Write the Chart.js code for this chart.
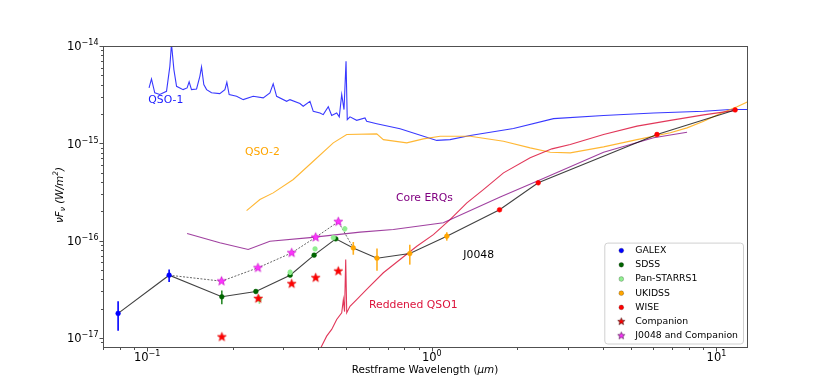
<!DOCTYPE html>
<html>
<head>
<meta charset="utf-8">
<script src="https://cdn.jsdelivr.net/npm/chart.js@4.4.1/dist/chart.umd.min.js"></script>
<style>
  html, body { margin: 0; padding: 0; background: #fff; }
  #wrap { width: 830px; height: 391px; }
</style>
</head>
<body>
<div id="wrap"><canvas id="sedChart" width="830" height="391"></canvas></div>
<script>
// ---- spectra (restframe wavelength in micron, nuFnu in W/m^2) ----
const qso1Wave = [0.1016, 0.1036, 0.1064, 0.1108, 0.117, 0.1202, 0.1218, 0.1242, 0.1269, 0.1338,
  0.1382, 0.1405, 0.1432, 0.1492, 0.1532, 0.1553, 0.1582, 0.1618, 0.1684, 0.180,
  0.1876, 0.1906, 0.1942, 0.2062, 0.2176, 0.2359, 0.2558, 0.270, 0.2773, 0.2851,
  0.3092, 0.3176, 0.3442, 0.3535, 0.3733, 0.3834, 0.4047, 0.4157, 0.4329, 0.4450,
  0.4634, 0.4732, 0.4826, 0.4917, 0.4998, 0.5048, 0.516, 0.5447, 0.5826, 0.5906,
  0.6407, 0.7736, 1.041, 1.159, 1.364, 1.936, 2.677, 4.012, 6.016, 9.016, 11.19, 13.0];
const qso1Flux = [3.71e-15, 4.59e-15, 3.30e-15, 3.17e-15, 3.42e-15, 6.18e-15, 1.05e-14, 5.72e-15, 3.85e-15, 3.56e-15,
  3.71e-15, 4.28e-15, 3.56e-15, 3.62e-15, 4.88e-15, 6.10e-15, 4.01e-15, 3.56e-15, 3.30e-15, 3.24e-15,
  3.56e-15, 4.24e-15, 3.17e-15, 3.04e-15, 2.81e-15, 3.04e-15, 2.93e-15, 3.30e-15, 4.08e-15, 3.04e-15,
  2.70e-15, 2.81e-15, 2.56e-15, 2.40e-15, 2.70e-15, 2.13e-15, 2.05e-15, 1.97e-15, 2.37e-15, 1.93e-15,
  2.05e-15, 1.87e-15, 3.17e-15, 2.22e-15, 6.96e-15, 1.75e-15, 1.87e-15, 1.72e-15, 1.82e-15, 1.68e-15,
  1.59e-15, 1.41e-15, 1.07e-15, 1.09e-15, 1.20e-15, 1.42e-15, 1.79e-15, 1.93e-15, 2.05e-15, 2.13e-15, 2.22e-15, 2.22e-15];

const qso2Wave = [0.2236, 0.249, 0.2773, 0.3262, 0.3834, 0.4508, 0.5026, 0.6407, 0.6759, 0.8167,
  0.9343, 1.07, 1.364, 1.786, 2.216, 2.606, 3.064, 4.012, 5.258, 6.885, 7.882, 9.016, 10.32, 11.81, 13.0];
const qso2Flux = [2.03e-16, 2.64e-16, 3.09e-16, 4.24e-16, 6.53e-16, 1.01e-15, 1.23e-15, 1.25e-15, 1.09e-15, 1.01e-15,
  1.11e-15, 1.18e-15, 1.18e-15, 1.05e-15, 8.97e-16, 8.08e-16, 7.97e-16, 9.18e-16, 1.09e-15, 1.28e-15, 1.44e-15, 1.68e-15, 2.02e-15, 2.37e-15, 2.70e-15];

const redWave = [0.4047, 0.4273, 0.4450, 0.4634, 0.4826, 0.4890, 0.4938, 0.4985, 0.5026, 0.516,
  0.5447, 0.5906, 0.6759, 0.7736, 0.8858, 1.013, 1.159, 1.328, 1.518, 1.786,
  2.216, 2.642, 3.064, 4.012, 5.258, 6.885, 9.016, 11.63];
const redFlux = [7.58e-18, 1.04e-17, 1.22e-17, 1.54e-17, 1.81e-17, 2.47e-17, 1.86e-17, 6.38e-17, 1.81e-17, 2.11e-17,
  2.47e-17, 3.14e-17, 4.66e-17, 6.38e-17, 8.74e-17, 1.15e-16, 1.64e-16, 2.44e-16, 3.34e-16, 4.96e-16,
  7.08e-16, 8.76e-16, 9.70e-16, 1.23e-15, 1.50e-15, 1.72e-15, 1.96e-15, 2.18e-15];

const erqWave = [0.1382, 0.180, 0.2265, 0.270, 0.3733, 0.5597, 0.7328, 1.098, 1.739, 2.34, 4.012, 6.016, 7.882];
const erqFlux = [1.18e-16, 9.47e-17, 8.08e-17, 9.84e-17, 1.07e-16, 1.22e-16, 1.30e-16, 1.52e-16, 2.81e-16, 4.07e-16, 8.08e-16, 1.14e-15, 1.30e-15];

// ---- photometry of J0048 ----
const galexWave = [0.0791, 0.1195];
const galexFlux = [1.78e-17, 4.40e-17];
const galexErr = [0.60e-17, 0.65e-17];

const sdssWave = [0.183, 0.241, 0.318, 0.386, 0.460];
const sdssFlux = [2.64e-17, 2.99e-17, 4.40e-17, 7.07e-17, 1.04e-16];
const sdssErr = [0.43e-17, 0.08e-17, 0.1e-17, 0.12e-17, 0.15e-17];

const ps1Wave = [0.248, 0.318, 0.389, 0.451, 0.495];
const ps1Flux = [2.48e-17, 4.72e-17, 8.20e-17, 1.07e-16, 1.32e-16];
const ps1Err = [0.25e-17, 0.3e-17, 0.2e-17, 0.2e-17, 0.8e-17];

const ukidssWave = [0.530, 0.642, 0.837, 1.129];
const ukidssFlux = [8.40e-17, 6.58e-17, 7.35e-17, 1.107e-16];
const ukidssErr = [1.26e-17, 1.7e-17, 1.7e-17, 1.1e-17];

const wiseWave = [1.73, 2.365, 6.18, 11.63];
const wiseFlux = [2.07e-16, 3.92e-16, 1.23e-15, 2.20e-15];
const wiseErr = [0.04e-16, 0.08e-16, 0.2e-16, 1.1e-16];

const compWave = [0.183, 0.2456, 0.322, 0.391, 0.4694];
const compFlux = [1.02e-17, 2.53e-17, 3.59e-17, 4.14e-17, 4.84e-17];

const bothWave = [0.1826, 0.245, 0.322, 0.391, 0.4694];
const bothFlux = [3.82e-17, 5.24e-17, 7.47e-17, 1.08e-16, 1.56e-16];

// ---- axes ----
const xMin = 0.070, xMax = 12.8;
const yMin = 8.04e-18, yMax = 1e-14;
const xTickExp = [-1, 0, 1];
const yTickExp = [-17, -16, -15, -14];

const legendLabels = ["GALEX", "SDSS", "Pan-STARRS1", "UKIDSS", "WISE", "Companion", "J0048 and Companion"];

// text labels placed in data units (left edge, vertical middle)
const noteText = ["QSO-1", "QSO-2", "Core ERQs", "J0048", "Reddened QSO1"];
const noteWave = [0.101, 0.2206, 0.7488, 1.291, 0.6019];
const noteFlux = [2.75e-15, 8.16e-16, 2.70e-16, 7.01e-17, 2.15e-17];
const noteColor = ["#2020ff", "#ffa500", "#800080", "#000000", "#dc143c"];

const SANS = '"DejaVu Sans", Verdana, sans-serif';

const pts = (w, f) => w.map((v, i) => ({ x: v, y: f[i] }));

function makeStar(fill, edge, r) {
  const s = Math.ceil(r * 2 + 3);
  const c = document.createElement("canvas");
  c.width = s;
  c.height = s;
  const g = c.getContext("2d");
  g.beginPath();
  for (let i = 0; i < 10; i++) {
    const rad = i % 2 ? r * 0.42 : r;
    const a = -Math.PI / 2 + (i * Math.PI) / 5;
    const px = s / 2 + rad * Math.cos(a);
    const py = s / 2 + rad * Math.sin(a);
    if (i === 0) g.moveTo(px, py);
    else g.lineTo(px, py);
  }
  g.closePath();
  g.fillStyle = fill;
  g.fill();
  g.strokeStyle = edge;
  g.lineWidth = 0.6;
  g.stroke();
  return c;
}

const redStar = makeStar("#ff0000", "#e00000", 4.7);
const magStar = makeStar("#ff33ff", "#c000c0", 4.7);
const redStarSmall = makeStar("#ff0000", "#400000", 3.8);
const magStarSmall = makeStar("#ff33ff", "#400040", 3.8);

function photo(label, w, f, err, color, errColor) {
  return {
    label: label,
    data: pts(w, f),
    errors: err,
    errorColor: errColor,
    showLine: false,
    pointStyle: "circle",
    pointRadius: 2.4,
    backgroundColor: color,
    borderColor: color,
    borderWidth: 0.5,
  };
}

function spec(label, w, f, color) {
  return {
    label: label,
    data: pts(w, f),
    showLine: true,
    pointRadius: 0,
    borderColor: color,
    borderWidth: 1.1,
    tension: 0,
  };
}

// index 0 is drawn on top
const datasets = [
  { label: "J0048 and Companion", data: pts(bothWave, bothFlux), showLine: false,
    pointStyle: magStar, legendStyle: magStarSmall, pointRadius: 5 },
  { label: "Companion", data: pts(compWave, compFlux), showLine: false,
    pointStyle: redStar, legendStyle: redStarSmall, pointRadius: 5 },
  photo("WISE", wiseWave, wiseFlux, wiseErr, "#ff0000", "#ff0000"),
  photo("UKIDSS", ukidssWave, ukidssFlux, ukidssErr, "#ffa500", "#ffb020"),
  photo("Pan-STARRS1", ps1Wave, ps1Flux, ps1Err, "#90ee90", "#90ee90"),
  photo("SDSS", sdssWave, sdssFlux, sdssErr, "#006400", "#2a8a2a"),
  photo("GALEX", galexWave, galexFlux, galexErr, "#0000ff", "#0000ff"),
  spec("J0048", [...galexWave, ...sdssWave, ...ukidssWave, ...wiseWave],
    [...galexFlux, ...sdssFlux, ...ukidssFlux, ...wiseFlux], "rgba(0,0,0,0.75)"),
  Object.assign(spec("J0048 + companion", [galexWave[1], ...bothWave, ukidssWave[0]],
    [galexFlux[1], ...bothFlux, ukidssFlux[0]], "rgba(0,0,0,0.6)"), { borderDash: [2, 1.5], borderWidth: 1 }),
  spec("Core ERQs", erqWave, erqFlux, "rgba(128,0,128,0.75)"),
  spec("Reddened QSO1", redWave, redFlux, "rgba(220,20,60,0.85)"),
  spec("QSO-2", qso2Wave, qso2Flux, "rgba(255,165,0,0.8)"),
  spec("QSO-1", qso1Wave, qso1Flux, "rgba(0,0,255,0.78)"),
];

const errorBarPlugin = {
  id: "errorBars",
  beforeDatasetDraw(chart, args) {
    const ds = chart.data.datasets[args.index];
    if (!ds.errors) return;
    const { ctx, scales: { x, y } } = chart;
    ctx.save();
    ctx.strokeStyle = ds.errorColor;
    ctx.lineWidth = 1.6;
    ds.data.forEach((p, i) => {
      const px = x.getPixelForValue(p.x);
      ctx.beginPath();
      ctx.moveTo(px, y.getPixelForValue(p.y - ds.errors[i]));
      ctx.lineTo(px, y.getPixelForValue(p.y + ds.errors[i]));
      ctx.stroke();
    });
    ctx.restore();
  },
};

function logTicks(min, max) {
  const out = [];
  for (let e = Math.floor(Math.log10(min)); e <= Math.ceil(Math.log10(max)); e++) {
    for (let m = 1; m <= 9; m++) {
      const v = m * Math.pow(10, e);
      if (v >= min * 0.999 && v <= max * 1.001) out.push({ v: v, major: m === 1 });
    }
  }
  return out;
}

function drawPower(ctx, exp, x, baseY, alignRight) {
  const sup = exp < 0 ? "\u2212" + -exp : String(exp);
  ctx.font = "11.5px " + SANS;
  const wb = ctx.measureText("10").width;
  ctx.font = "8px " + SANS;
  const ws = ctx.measureText(sup).width;
  const x0 = alignRight ? x - wb - ws : x - (wb + ws) / 2;
  ctx.textAlign = "left";
  ctx.textBaseline = "alphabetic";
  ctx.font = "11.5px " + SANS;
  ctx.fillText("10", x0, baseY);
  ctx.font = "8px " + SANS;
  ctx.fillText(sup, x0 + wb, baseY - 5);
}

function drawRuns(ctx, runs, x, y) {
  // runs: [text, font, dy]
  let cx = x;
  runs.forEach(([t, f, dy]) => {
    ctx.font = f;
    ctx.fillText(t, cx, y + dy);
    cx += ctx.measureText(t).width;
  });
  return cx - x;
}

function runsWidth(ctx, runs) {
  let w = 0;
  runs.forEach(([t, f]) => { ctx.font = f; w += ctx.measureText(t).width; });
  return w;
}

const decorPlugin = {
  id: "decor",
  afterDatasetsDraw(chart) {
    const { ctx, chartArea: a, scales: { x, y } } = chart;
    ctx.save();

    // notes on the plot
    ctx.textAlign = "left";
    ctx.textBaseline = "middle";
    ctx.font = "10.8px " + SANS;
    noteText.forEach((t, i) => {
      ctx.fillStyle = noteColor[i];
      ctx.fillText(t, x.getPixelForValue(noteWave[i]), y.getPixelForValue(noteFlux[i]));
    });

    // frame
    ctx.strokeStyle = "#505050";
    ctx.lineWidth = 1;
    ctx.strokeRect(Math.round(a.left) + 0.5, Math.round(a.top) + 0.5,
      Math.round(a.right - a.left), Math.round(a.bottom - a.top));

    // ticks
    ctx.beginPath();
    logTicks(x.min, x.max).forEach((t) => {
      const px = Math.round(x.getPixelForValue(t.v)) + 0.5;
      ctx.moveTo(px, a.bottom + 1);
      ctx.lineTo(px, a.bottom + 1 + (t.major ? 3.5 : 2));
    });
    logTicks(y.min, y.max).forEach((t) => {
      const py = Math.round(y.getPixelForValue(t.v)) + 0.5;
      ctx.moveTo(a.left, py);
      ctx.lineTo(a.left - (t.major ? 3.5 : 2), py);
    });
    ctx.stroke();

    // tick labels
    ctx.fillStyle = "#000";
    xTickExp.forEach((e) => {
      drawPower(ctx, e, x.getPixelForValue(Math.pow(10, e)), a.bottom + 13.5, false);
    });
    yTickExp.forEach((e) => {
      drawPower(ctx, e, a.left - 4.5, y.getPixelForValue(Math.pow(10, e)) + 4.3, true);
    });

    // x title
    const f1 = "10.4px " + SANS, fi = "italic 10.4px " + SANS;
    const xRuns = [["Restframe Wavelength (", f1, 0], ["\u03bcm", fi, 0], [")", f1, 0]];
    ctx.textBaseline = "middle";
    ctx.textAlign = "left";
    const xw = runsWidth(ctx, xRuns);
    drawRuns(ctx, xRuns, (a.left + a.right) / 2 - xw / 2, a.bottom + 23.5);

    // y title
    const fs = "italic 7.5px " + SANS;
    const yRuns = [["\u03bdF", fi, 0], ["\u03bd", fs, 2.5], [" (W/m", fi, 0], ["2", fs, -4], [")", fi, 0]];
    ctx.save();
    ctx.translate(60.5, (a.top + a.bottom) / 2 - 1.5);
    ctx.rotate(-Math.PI / 2);
    const yw = runsWidth(ctx, yRuns);
    drawRuns(ctx, yRuns, -yw / 2, 0);
    ctx.restore();

    // legend
    ctx.font = "9.3px " + SANS;
    let tw = 0;
    legendLabels.forEach((l) => { tw = Math.max(tw, ctx.measureText(l).width); });
    const rowH = 14.2;
    const bw = 31 + tw + 5, bh = rowH * legendLabels.length + 1.5;
    const bx = a.right - 4 - bw, by = a.bottom - 3.5 - bh;
    ctx.beginPath();
    ctx.roundRect(bx + 0.5, by + 0.5, bw, bh, 3);
    ctx.fillStyle = "rgba(255,255,255,0.85)";
    ctx.fill();
    ctx.strokeStyle = "#d0d0d0";
    ctx.lineWidth = 1;
    ctx.stroke();
    legendLabels.forEach((l, i) => {
      const ds = chart.data.datasets.find((d) => d.label === l);
      const cy = by + 8 + i * rowH;
      const mx = bx + 17;
      if (ds.legendStyle) {
        const img = ds.legendStyle;
        ctx.drawImage(img, mx - img.width / 2, cy - img.height / 2);
      } else {
        ctx.beginPath();
        ctx.arc(mx, cy, 2.4, 0, Math.PI * 2);
        ctx.fillStyle = ds.backgroundColor;
        ctx.fill();
        ctx.strokeStyle = "rgba(0,0,0,0.35)";
        ctx.lineWidth = 0.6;
        ctx.stroke();
      }
      ctx.fillStyle = "#000";
      ctx.textAlign = "left";
      ctx.textBaseline = "middle";
      ctx.fillText(l, bx + 31, cy);
    });

    ctx.restore();
  },
};

const ctx = document.getElementById("sedChart").getContext("2d");

new Chart(ctx, {
  type: "scatter",
  data: { datasets: datasets },
  options: {
    responsive: false,
    animation: false,
    devicePixelRatio: 1,
    events: [],
    layout: { padding: { left: 0, top: 46, right: 83, bottom: 0 } },
    plugins: {
      legend: { display: false },
      tooltip: { enabled: false },
    },
    scales: {
      x: {
        type: "logarithmic",
        min: xMin,
        max: xMax,
        ticks: { display: false },
        grid: { display: false },
        border: { display: false },
        afterFit: (s) => { s.height = 44; },
      },
      y: {
        type: "logarithmic",
        min: yMin,
        max: yMax,
        ticks: { display: false },
        grid: { display: false },
        border: { display: false },
        afterFit: (s) => { s.width = 103; },
      },
    },
  },
  plugins: [errorBarPlugin, decorPlugin],
});
</script>
</body>
</html>
